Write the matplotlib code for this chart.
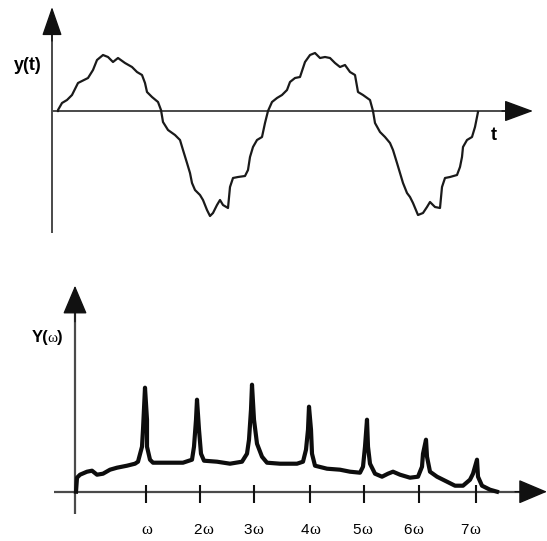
"""Senal periodica con armonicos (arriba) y su espectro Y(w) (abajo)."""
import matplotlib
matplotlib.use("Agg")
import matplotlib.pyplot as plt

# senal y(t): t desde el eje vertical, y desde el eje horizontal
T = [6, 6, 10, 15, 20, 26, 30, 36, 41, 45, 51, 56, 61, 66, 73, 80, 85, 90, 93, 95,
     100, 106, 109, 111, 116, 123, 128, 131, 135, 138, 140, 143, 148, 151, 155, 158,
     161, 165, 168, 171, 176, 178, 181, 186, 193, 196, 198, 201, 205, 210, 213, 216,
     220, 225, 230, 235, 238, 243, 248, 251, 253, 258, 263, 268, 273, 278, 283, 288,
     293, 298, 303, 306, 311, 318, 321, 323, 328, 333, 338, 341, 345, 348, 351, 355,
     358, 361, 366, 371, 375, 378, 383, 388, 390, 393, 398, 405, 408, 410, 411, 415,
     420, 423, 425, 426]
Y_T = [0, 1, 8, 11, 16, 28, 30, 33, 41, 51, 56, 54, 49, 53, 48, 44, 39, 36, 28, 19,
       14, 9, 1, -11, -19, -24, -29, -39, -52, -62, -72, -79, -84, -89, -99, -105,
       -102, -94, -89, -94, -97, -76, -67, -66, -65, -59, -46, -36, -29, -26, -12, 0,
       9, 13, 16, 21, 29, 33, 34, 43, 49, 56, 58, 53, 54, 53, 48, 44,
       46, 39, 36, 19, 16, 11, 0, -12, -21, -26, -32, -39, -52, -62, -72, -82,
       -86, -92, -104, -102, -96, -91, -96, -97, -76, -67, -66, -64, -56, -46, -36, -29,
       -26, -16, -6, -1]

# espectro Y(w)
W = [1, 2, 5, 12, 17, 22, 28, 35, 42, 52, 60, 63, 67, 68, 70, 72, 72, 75, 78, 92,
     108, 117, 119, 121, 122, 124, 126, 129, 142, 155, 167, 172, 174, 176, 177, 179,
     182, 187, 192, 205, 222, 228, 231, 233, 234, 236, 237, 240, 252, 265, 275, 285,
     288, 290, 292, 293, 295, 300, 307, 313, 318, 325, 335, 343, 347, 348, 351, 352,
     355, 362, 372, 380, 388, 395, 398, 402, 403, 407, 415, 422]
Y_W = [0, 14, 17, 20, 21, 17, 18, 22, 24, 26, 28, 30, 45, 62, 104, 72, 45, 32, 29, 29,
       29, 32, 45, 72, 92, 62, 38, 31, 30, 28, 30, 38, 52, 82, 107, 72,
       48, 35, 29, 28, 28, 30, 42, 62, 85, 62, 38, 26, 23, 22, 20, 19,
       25, 45, 72, 45, 28, 18, 15, 18, 20, 17, 14, 15, 25, 38, 52, 35,
       20, 15, 10, 6, 6, 12, 18, 32, 15, 6, 2, 0]

MARCAS = [71, 125, 179, 235, 289, 344, 401]
CIFRAS = ["", "2", "3", "4", "5", "6", "7"]
POS_ETIQ = [72, 128, 178, 235, 287, 338, 395]

GRIS = "#4a4a4a"
PUNTA = "#111111"
fig = plt.figure(figsize=(5.47, 5.41), dpi=100)


def flecha(ax, punta, base, ancho):
    """Solo la cabeza de flecha (negra) sobre el eje gris."""
    ax.annotate("", xy=punta, xytext=base,
                arrowprops=dict(arrowstyle=f"-|>,head_length=1.3,head_width={ancho}",
                                mutation_scale=14, lw=1.0, color=PUNTA,
                                shrinkA=0, shrinkB=0))


# ---- panel superior ----
ax1 = fig.add_axes([0, 291 / 541, 1, 250 / 541])
ax1.set_xlim(-52, 495)
ax1.set_ylim(-139, 111)
ax1.axis("off")
ax1.plot([0, 0], [-122, 85], color=GRIS, lw=1.4, solid_capstyle="butt")
ax1.plot([0, 462], [0, 0], color=GRIS, lw=1.4, solid_capstyle="butt")
flecha(ax1, (0, 104), (0, 70), 0.45)
flecha(ax1, (481, 0), (450, 0), 0.48)
ax1.plot(T, Y_T, color="#1a1a1a", lw=1.6, solid_joinstyle="round")
ax1.text(-24, 46, "y(t)", ha="center", va="center", fontsize=13,
         fontweight="bold", family="Liberation Sans")
ax1.text(442, -24, "t", ha="center", va="center", fontsize=13,
         fontweight="bold", family="Liberation Sans")

# ---- panel inferior ----
ax2 = fig.add_axes([0, 0, 1, 291 / 541])
ax2.set_xlim(-75, 472)
ax2.set_ylim(-49.3, 241.7)
ax2.axis("off")
ax2.plot([0, 0], [-22, 185], color=GRIS, lw=1.6, solid_capstyle="butt")
ax2.plot([-21, 450], [0, 0], color=GRIS, lw=1.6, solid_capstyle="butt")
flecha(ax2, (0, 206), (0, 170), 0.55)
flecha(ax2, (472, 0), (440, 0), 0.55)
ax2.vlines(MARCAS, -11, 7, color="#111", lw=1.5)
ax2.plot(W, Y_W, color="#0d0d0d", lw=3.0, solid_joinstyle="round")

for cifra, x in zip(CIFRAS, POS_ETIQ):
    if cifra:
        ax2.text(x - 1, -38, cifra, ha="right", va="center", fontsize=11,
                 family="Liberation Sans")
        ax2.text(x - 1, -38, "\u03c9", ha="left", va="center", fontsize=12,
                 family="Liberation Serif")
    else:
        ax2.text(x, -38, "\u03c9", ha="center", va="center", fontsize=12,
                 family="Liberation Serif")

ax2.text(-27, 154, "Y(", ha="right", va="center", fontsize=12,
         fontweight="bold", family="Liberation Sans")
ax2.text(-22.5, 153, "\u03c9", ha="center", va="center", fontsize=11,
         family="Liberation Serif")
ax2.text(-18, 154, ")", ha="left", va="center", fontsize=12,
         fontweight="bold", family="Liberation Sans")

fig.savefig("out.png", dpi=100)
